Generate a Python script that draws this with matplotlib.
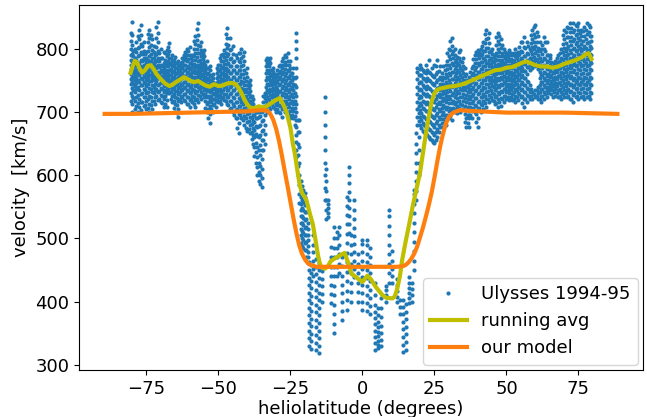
import numpy as np
import matplotlib
matplotlib.use("Agg")
import matplotlib.pyplot as plt

obs_lat = [
    -80.5, -80, -79.5, -79, -78.5, -78, -77.5, -77, -76.5, -76, -75.5, -75, -74.5, -74, -73.5, -73,
    -72.5, -72, -71.5, -71, -70.5, -70, -69.5, -69, -68.5, -68, -67.5, -67, -66.5, -66, -65.5, -65,
    -64.5, -64, -63.5, -63, -62.5, -62, -61.5, -61, -60.5, -60, -59.5, -59, -58.5, -58, -57.5, -57,
    -56.5, -56, -55.5, -55, -54.5, -54, -53.5, -53, -52.5, -52, -51.5, -51, -50.5, -50, -49.5, -49,
    -48.5, -48, -47.5, -47, -46.5, -46, -45.5, -45, -44.5, -44, -43.5, -43, -42.5, -42, -41.5, -41,
    -40.5, -40, -39.5, -39, -38.5, -38, -37.5, -37, -36.5, -36, -35.5, -35, -34.5, -34, -33.5, -33,
    -32.5, -32, -31.5, -31, -30.5, -30, -29.5, -29, -28.5, -28, -27.5, -27, -26.5, -26, -25.5, -25,
    -24.5, -24, -23.5, -23,
    -22.5, -22, -21.5, -21, -20.5, -20, -19.5, -19, -18.5, -18, -17, -16, -15, -14, -13, -12.5, -12,
    -11, -10, -9, -8, -7, -5.5, -4.5, -4, -3, -1.5, -0.3, 1.5, 2.5, 4.5, 5.5, 6.5, 8.3, 9.3, 10.3,
    12, 13, 14, 15, 16.3, 17.3, 18, 18.7,
    19, 19.5, 20, 20.5, 21, 21.5, 22, 22.5, 23, 23.5, 24, 24.5, 25, 25.5, 26, 26.5, 27, 27.5, 28,
    28.5, 29, 29.5, 30, 30.5, 31, 31.5, 32, 32.5, 33, 33.5, 34, 34.5, 35, 35.5, 36, 36.5, 37, 37.5,
    38, 38.5, 39, 39.5, 40, 40.5, 41, 41.5, 42, 42.5, 43, 43.5, 44, 44.5, 45, 45.5, 46, 46.5, 47,
    47.5, 48, 48.5, 49, 49.5, 50, 50.5, 51, 51.5, 52, 52.5, 53, 53.5, 54, 54.5, 55, 55.5, 56, 56.5,
    57, 57.5, 58, 58.5, 59, 59.5, 60, 60.5, 61, 61.5, 62, 62.5, 63, 63.5, 64, 64.5, 65, 65.5, 66,
    66.5, 67, 67.5, 68, 68.5, 69, 69.5, 70, 70.5, 71, 71.5, 72, 72.5, 73, 73.5, 74, 74.5, 75, 75.5,
    76, 76.5, 77, 77.5, 78, 78.5, 79, 79.5,
]

obs_vel = [
    [718, 730, 745, 752, 760, 768, 775, 783, 790, 800, 812, 825],
    [700, 712, 726, 738, 748, 756, 765, 772, 781, 792, 806, 821, 843],
    [722, 735, 744, 753, 762, 770, 779, 788, 797],
    [705, 718, 731, 741, 750, 759, 767, 776, 785, 800],
    [710, 724, 736, 746, 755, 764, 773, 783, 795, 810],
    [700, 714, 727, 739, 751, 761, 770, 778, 788, 801, 820],
    [708, 721, 734, 747, 758, 768, 778, 790, 803, 816, 830],
    [703, 716, 729, 742, 753, 763, 772, 783, 795, 808, 822, 838],
    [716, 730, 742, 752, 762, 771, 781, 792, 804],
    [710, 724, 737, 747, 757, 766, 775, 786, 797, 810],
    [711, 724, 735, 746, 755, 764, 773, 782, 791],
    [705, 718, 730, 741, 750, 759, 768, 777, 786, 795],
    [707, 720, 732, 744, 754, 763, 772, 783, 796, 810, 824],
    [700, 713, 726, 738, 749, 758, 767, 777, 789, 803, 817, 830],
    [711, 724, 737, 749, 759, 769, 780, 792, 806, 822],
    [705, 718, 731, 743, 754, 764, 774, 785, 798, 815],
    [718, 730, 740, 750, 759, 768, 777, 786, 795, 805],
    [712, 724, 735, 745, 754, 763, 772, 781, 790],
    [725, 737, 749, 759, 769, 780, 791, 803, 817, 834],
    [719, 731, 743, 754, 764, 774, 785, 797, 810, 825, 843],
    [721, 733, 744, 753, 762, 771, 781, 793],
    [715, 727, 738, 748, 757, 766, 775, 786, 800],
    [714, 726, 736, 746, 755, 764, 773, 785],
    [708, 720, 731, 741, 750, 759, 768, 778, 795],
    [713, 725, 735, 745, 754, 763, 772, 782, 793],
    [708, 719, 730, 740, 749, 758, 767, 777, 788, 798],
    [735, 745, 754, 763, 772, 781, 792, 803],
    [730, 740, 749, 758, 767, 776, 786, 797, 809],
    [720, 731, 741, 750, 759, 768, 777, 786],
    [715, 726, 736, 745, 754, 763, 772, 781, 790],
    [706, 717, 728, 738, 747, 756, 765, 774, 783],
    [700, 712, 723, 733, 742, 751, 760, 769, 778, 787],
    [698, 711, 722, 733, 743, 752, 761, 769, 777],
    [692, 705, 717, 728, 738, 747, 756, 765, 773, 780],
    [720, 731, 741, 750, 758, 766, 774],
    [715, 726, 736, 745, 754, 762, 770, 777],
    [724, 734, 744, 753, 762, 771, 779, 786],
    [719, 729, 739, 748, 757, 766, 775, 783, 790],
    [717, 728, 738, 748, 757, 766, 775, 785, 795],
    [712, 723, 733, 743, 752, 761, 770, 780, 790, 800],
    [713, 724, 735, 745, 755, 764, 773, 784, 796],
    [708, 719, 730, 740, 750, 759, 768, 778, 790, 803],
    [720, 731, 741, 751, 760, 769, 778, 786],
    [715, 726, 736, 746, 755, 764, 773, 782, 790],
    [713, 724, 735, 746, 756, 766, 776, 788, 800, 813],
    [708, 719, 730, 741, 751, 761, 771, 782, 794, 807, 820],
    [721, 733, 745, 755, 765, 775, 787, 799, 814, 831],
    [715, 727, 739, 750, 760, 770, 781, 793, 806, 822, 841],
    [725, 736, 746, 756, 765, 774, 783, 793, 804],
    [720, 731, 741, 751, 760, 769, 778, 788, 798, 810],
    [729, 739, 748, 757, 766, 775, 784, 793],
    [724, 734, 743, 752, 761, 770, 779, 788, 798],
    [706, 718, 728, 738, 747, 756, 765, 775],
    [700, 712, 723, 733, 742, 751, 760, 770, 780],
    [690, 704, 716, 726, 736, 745, 754, 762, 769],
    [683, 697, 710, 721, 731, 740, 749, 758, 766, 772],
    [705, 716, 726, 735, 743, 751, 757],
    [700, 711, 721, 730, 739, 747, 754, 760],
    [712, 721, 729, 736, 743],
    [708, 717, 725, 732, 739, 746],
    [719, 729, 737, 745, 753, 762, 770],
    [715, 724, 733, 741, 749, 757, 766, 775],
    [717, 727, 737, 746, 756, 765, 775, 785],
    [712, 722, 732, 742, 751, 760, 770, 780, 790],
    [724, 734, 743, 752, 761, 771, 781, 792],
    [719, 729, 739, 748, 757, 766, 776, 787, 798],
    [717, 728, 739, 750, 760, 770, 782, 794, 808, 824],
    [712, 723, 734, 745, 755, 765, 776, 788, 801, 817, 833],
    [711, 723, 735, 746, 756, 767, 778, 791, 806],
    [705, 717, 729, 740, 751, 761, 772, 784, 798, 817],
    [706, 718, 730, 741, 751, 762, 773, 786, 799],
    [700, 712, 724, 735, 746, 756, 767, 779, 792, 805],
    [696, 709, 722, 734, 745, 756, 767, 780],
    [690, 703, 716, 728, 739, 750, 761, 773, 790],
    [675, 690, 704, 716, 728, 739, 750, 761, 773, 786],
    [667, 683, 697, 710, 722, 733, 744, 755, 767, 780, 793],
    [696, 709, 721, 733, 744, 755, 766, 779, 793],
    [690, 703, 715, 727, 738, 749, 760, 772, 786, 800],
    [687, 700, 713, 725, 737, 748, 760, 774, 788],
    [680, 694, 707, 719, 731, 742, 754, 767, 781, 795],
    [675, 690, 703, 715, 726, 737, 749, 762],
    [670, 684, 697, 709, 720, 731, 742, 755, 770],
    [673, 686, 698, 708, 718, 728, 738, 747],
    [667, 680, 692, 703, 713, 723, 733, 742, 751],
    [657, 669, 681, 691, 701, 709, 717, 726],
    [650, 663, 675, 686, 696, 705, 713, 720],
    [630, 645, 660, 672, 684, 695, 703],
    [620, 636, 651, 665, 678, 690, 700, 705],
    [600, 613, 628, 645, 662, 676, 690, 700],
    [590, 605, 620, 640, 660, 678, 692, 700],
    [586, 600, 615, 632, 648, 664, 680, 694],
    [582, 595, 610, 625, 640, 655, 670, 685, 700],
    [640, 656, 672, 688, 703, 716, 726],
    [650, 665, 680, 695, 710, 722, 730],
    [705, 717, 729, 740, 751, 762, 773, 783],
    [700, 712, 723, 734, 745, 756, 767, 778, 785],
    [710, 721, 732, 742, 752, 762, 772, 781],
    [705, 716, 727, 737, 747, 757, 767, 777, 785],
    [713, 723, 733, 742, 751, 760, 767],
    [708, 718, 728, 738, 747, 756, 764, 770],
    [705, 716, 726, 735, 744, 752, 758],
    [700, 711, 721, 731, 740, 749, 755, 760],
    [705, 716, 727, 737, 747, 757, 767],
    [700, 711, 722, 732, 742, 752, 762, 772],
    [698, 710, 722, 733, 744, 755, 765, 775],
    [692, 704, 716, 727, 738, 749, 760, 770, 780],
    [706, 718, 730, 741, 752, 763, 774, 785],
    [700, 712, 724, 735, 746, 757, 768, 779, 790],
    [706, 718, 729, 740, 751, 762, 774, 787],
    [700, 712, 723, 734, 745, 756, 767, 780, 793],
    [696, 708, 720, 732, 743, 754, 765, 775],
    [690, 702, 714, 726, 737, 748, 759, 770, 780],
    [695, 706, 717, 728, 739, 750, 762],
    [690, 701, 712, 723, 734, 745, 756, 770],
    [680, 694, 706, 718, 730, 742, 754],
    [629, 640, 652, 664, 676, 688, 700, 712, 725, 740, 755, 770, 785, 800, 812, 825],
    [600, 615, 632, 650, 668, 688],
    [556, 570, 585, 600, 620, 645, 668, 688],
    [493, 505, 515, 525, 535, 545, 555, 565, 577, 590],
    [488, 500, 512, 524, 536, 548, 560, 572, 583],
    [485, 497, 509, 521, 533, 545, 557, 569, 577],
    [482, 493, 505, 517, 529, 541, 553, 565, 572],
    [470, 482, 494, 506, 518, 530, 542, 555],
    [461, 470, 479, 488, 497, 506, 515, 525],
    [330, 342, 354, 366, 378, 390, 402, 414, 426, 438, 450, 462],
    [325, 337, 349, 361, 373, 385, 397, 409, 421, 433, 445, 458],
    [440, 452, 465, 478, 490, 505],
    [323, 335, 347, 359, 371, 383, 395, 407, 419, 431, 443, 455, 467],
    [318, 330, 342, 354, 366, 378, 390, 402, 414, 426, 438, 450, 461],
    [400, 412, 424, 436, 448],
    [560, 580, 600, 620, 640, 660, 680, 700, 724],
    [530, 545, 560, 575, 590, 610],
    [534, 540, 548, 555, 561],
    [398, 412, 426, 440, 455, 470, 487],
    [350, 365, 380, 395, 410, 425, 440, 455, 470, 485, 500, 518],
    [440, 455, 470, 485, 500, 510],
    [446, 460, 475, 490, 505, 518],
    [371, 385, 399, 413, 427, 441, 456, 471],
    [387, 402, 417, 432, 447, 462, 477, 492, 507, 522, 537, 552, 566],
    [509, 522, 535, 548, 561, 574, 587, 600, 613],
    [400, 415, 430, 445, 460, 475, 490, 505],
    [439, 452, 465, 478, 491, 504, 517, 530, 545, 561],
    [400, 415, 430, 445, 460, 475],
    [387, 400, 413, 426, 439, 452, 465, 478, 491, 498],
    [385, 398, 411, 424, 437, 450, 463, 476, 489, 498],
    [380, 393, 406, 419, 432, 445, 458, 471, 484],
    [324, 334, 344, 354, 364, 374, 384, 394, 410, 430],
    [326, 332, 338, 345, 352, 360, 368, 378, 390],
    [330, 340, 350, 362, 375, 390, 405],
    [400, 410, 418, 425],
    [430, 445, 460, 475, 490, 505, 520, 535, 545],
    [430, 440, 452, 465, 480],
    [400, 408, 417, 426, 435],
    [380, 392, 403],
    [320, 332, 344, 356, 368, 380, 392, 403],
    [324, 336, 348, 360, 372, 384, 396],
    [398, 406, 414, 422, 430, 439],
    [400, 410, 420, 430],
    [450, 465, 480, 495, 510, 525, 540, 555, 570, 577],
    [561, 575, 590, 605, 620, 635, 650, 667],
    [680, 692, 704, 716, 728, 740, 752, 764, 770],
    [600, 620, 640, 660, 686, 698, 710, 722, 734, 746, 758],
    [680, 692, 703, 714, 725, 736, 747, 758, 768, 775],
    [675, 687, 699, 711, 723, 735, 747, 759, 770],
    [670, 682, 694, 706, 718, 730, 742, 754, 766],
    [668, 680, 692, 704, 716, 728, 740, 752, 764],
    [665, 677, 689, 701, 713, 725, 737, 749, 761, 775],
    [663, 676, 689, 702, 715, 728, 741, 754, 767],
    [660, 673, 686, 699, 712, 725, 738, 751, 764, 782],
    [658, 671, 684, 697, 710, 723, 736, 749, 762],
    [655, 668, 681, 694, 707, 720, 733, 746, 758, 770],
    [653, 666, 679, 692, 705, 718, 731, 744, 757],
    [651, 664, 677, 690, 703, 716, 729, 742, 755, 775],
    [656, 669, 682, 695, 708, 721, 734, 747, 760, 772],
    [660, 673, 686, 699, 712, 725, 738, 751, 764, 782],
    [668, 680, 692, 704, 716, 728, 740, 752, 765],
    [677, 689, 701, 712, 723, 734, 745, 756, 772],
    [683, 695, 706, 717, 728, 739, 750, 762],
    [677, 689, 700, 711, 722, 733, 744, 756, 772],
    [684, 696, 708, 719, 730, 741, 753, 766],
    [680, 692, 704, 715, 726, 737, 748, 760, 775],
    [696, 708, 720, 732, 744, 756, 768, 781, 794],
    [690, 702, 714, 726, 738, 750, 762, 775, 788, 800],
    [694, 707, 720, 733, 746, 758, 770, 784, 798, 812],
    [688, 701, 714, 727, 740, 752, 764, 777, 791, 805, 817],
    [706, 718, 730, 741, 752, 763, 774, 785, 796],
    [700, 712, 724, 735, 746, 757, 768, 779, 790, 800],
    [704, 716, 728, 739, 750, 761, 772, 782],
    [698, 710, 722, 733, 744, 755, 766, 777, 787],
    [706, 718, 730, 741, 752, 763, 774, 786, 795],
    [700, 712, 724, 736, 747, 758, 769, 780, 798],
    [711, 723, 734, 745, 756, 767, 779],
    [705, 717, 728, 739, 750, 761, 772, 785],
    [684, 697, 710, 722, 734, 746, 757, 770],
    [677, 690, 703, 715, 727, 739, 750, 760],
    [683, 696, 708, 720, 731, 741, 751],
    [677, 690, 702, 714, 725, 736, 746, 756],
    [696, 708, 720, 731, 742, 752, 763],
    [690, 702, 714, 725, 736, 747, 758, 770],
    [706, 717, 728, 739, 750, 761, 772, 784],
    [700, 711, 722, 733, 744, 755, 766, 778, 790],
    [684, 697, 710, 722, 734, 746, 758, 771, 784, 795],
    [677, 691, 704, 716, 728, 740, 752, 764, 777, 790, 798],
    [706, 718, 730, 741, 752, 763, 774, 785, 795],
    [700, 712, 724, 735, 746, 757, 768, 779, 790, 800],
    [711, 723, 735, 746, 757, 768, 779, 791, 804],
    [705, 717, 729, 740, 751, 762, 773, 785, 797, 810],
    [714, 726, 738, 750, 761, 772, 783, 796, 809, 823],
    [708, 720, 732, 744, 755, 766, 777, 789, 802, 816, 830],
    [721, 733, 745, 756, 767, 778, 789, 802, 817],
    [715, 727, 739, 750, 761, 772, 783, 795, 809, 825],
    [724, 735, 746, 756, 766, 776, 786, 796],
    [719, 730, 741, 751, 761, 771, 781, 791, 800],
    [717, 728, 739, 749, 759, 769, 779, 787],
    [712, 723, 734, 744, 754, 764, 774, 784, 790],
    [714, 726, 738, 749, 760, 771, 782, 794, 806, 819],
    [708, 720, 732, 743, 754, 765, 776, 788, 800, 812, 825],
    [716, 728, 739, 750, 761, 772, 783, 795, 808, 820],
    [710, 722, 733, 744, 755, 766, 777, 789, 802, 815],
    [720, 731, 742, 752, 762, 772, 783, 794, 806],
    [715, 726, 737, 747, 757, 767, 777, 788, 800],
    [725, 736, 746, 756, 766, 776, 786, 795],
    [720, 731, 741, 751, 761, 771, 781, 790],
    [724, 735, 745, 755, 765, 775, 785, 794],
    [719, 730, 740, 750, 760, 770, 780, 790, 798],
    [724, 734, 744, 754, 764, 774, 784, 794],
    [719, 729, 739, 749, 759, 769, 779, 790],
    [720, 731, 742, 752, 762, 772, 782, 794],
    [715, 726, 737, 747, 757, 767, 777, 788, 800],
    [724, 735, 745, 755, 765, 775, 785, 793],
    [719, 730, 740, 750, 760, 770, 780, 790, 795],
    [729, 740, 750, 760, 770, 780, 791, 803],
    [724, 735, 745, 755, 765, 775, 785, 797, 810],
    [714, 726, 737, 748, 759, 770, 782, 795, 810],
    [708, 720, 732, 743, 754, 765, 776, 788, 803, 819],
    [721, 732, 743, 754, 765, 776, 788, 802],
    [715, 727, 738, 749, 760, 771, 782, 794, 810],
    [725, 736, 747, 771, 781, 792, 805],
    [720, 731, 742, 766, 776, 786, 800],
    [725, 736, 775, 785, 797, 809, 822],
    [720, 731, 770, 780, 791, 803, 816, 830],
    [729, 777, 787, 799, 811, 824, 834],
    [724, 734, 772, 782, 793, 805, 818, 838],
    [725, 735, 774, 784, 796, 810, 826],
    [720, 730, 740, 768, 779, 790, 802, 820],
    [720, 731, 742, 753, 764, 775, 786, 796, 810],
    [715, 726, 737, 748, 759, 770, 781, 800],
    [725, 736, 747, 758, 769, 780, 792, 806],
    [720, 731, 742, 753, 764, 775, 786, 800, 819],
    [729, 740, 751, 762, 773, 784, 796, 810],
    [724, 735, 746, 757, 768, 779, 790, 810],
    [730, 740, 750, 760, 770, 780, 790],
    [735, 745, 755, 765, 775, 785, 790],
    [729, 739, 749, 759, 769, 779],
    [724, 734, 744, 754, 764, 772],
    [731, 741, 751, 761, 771, 778],
    [726, 736, 746, 756, 766, 776, 780],
    [730, 741, 752, 763, 774, 785],
    [724, 735, 746, 757, 768, 779, 790],
    [726, 737, 748, 759, 770, 781, 794],
    [720, 731, 742, 753, 764, 775, 786, 800],
    [729, 740, 751, 762, 773, 784, 795, 808, 822],
    [724, 735, 746, 757, 768, 779, 790, 801, 815, 830],
    [730, 741, 752, 763, 774, 785, 796, 809, 826],
    [724, 735, 746, 757, 768, 779, 790, 802, 818, 835],
    [726, 737, 748, 759, 770, 781, 792, 805, 819, 833],
    [720, 731, 742, 753, 764, 775, 786, 798, 812, 826, 841],
    [721, 733, 745, 757, 769, 781, 793, 806, 819, 833],
    [715, 727, 739, 751, 763, 775, 787, 799, 812, 826, 841],
    [730, 742, 754, 766, 778, 790, 802, 815, 830],
    [724, 736, 748, 760, 772, 784, 796, 808, 822, 838],
    [726, 738, 750, 762, 774, 786, 798, 811, 824, 836],
    [720, 732, 744, 756, 768, 780, 792, 804, 817, 830, 841],
    [730, 742, 754, 766, 778, 790, 802, 814, 825],
    [724, 736, 748, 760, 772, 784, 796, 808, 820, 830],
    [726, 738, 750, 762, 774, 786, 799, 813, 828],
    [720, 732, 744, 756, 768, 780, 792, 805, 820, 835],
    [730, 742, 754, 766, 778, 790, 802, 816, 830],
    [724, 736, 748, 760, 772, 784, 796, 809, 824, 840],
    [726, 738, 750, 762, 774, 786, 798, 811, 826, 838],
    [720, 732, 744, 756, 768, 780, 792, 805, 820, 835],
    [730, 742, 754, 766, 778, 790, 802, 812, 820],
]

# ---- running average ----
avg_lat = [-80.5, -79.8, -79, -78.2, -77.5, -76.5, -75.5, -74.5, -73.5, -72.5, -71.5, -70, -68.5,
           -67, -66, -64.5, -63, -62, -61, -60, -58.5, -57, -56, -54.5, -53, -51.5, -50, -48.5,
           -47, -45.5, -44, -43, -42, -41, -40, -39, -38, -37, -36, -35, -34, -33, -32, -31, -30,
           -28.7, -27.5, -26.3, -25, -24.2, -23.5, -22.5, -21.8, -21, -20, -19.4, -18.3, -17.2,
           -16.2, -15.5, -14.9, -14.2, -13, -12, -11, -10, -8.6, -7, -6.2, -5, -3.8, -2, 0, 1.7,
           3, 4.5, 5.9, 7, 8.3, 10.4, 11.2, 12, 13, 13.8, 15, 16.3, 17.5, 18.7, 20, 21, 22, 23,
           24, 25, 26, 27, 28, 30, 32, 34, 36, 38, 40, 42, 44, 46, 48, 50, 52, 54, 55.5, 57, 58.5,
           60, 62, 64, 66, 68, 70, 72, 74, 76, 77.5, 78.5, 79.5]
avg_vel = [762, 772, 781, 778, 770, 762, 766, 773, 774, 768, 760, 752, 745,
           741, 743, 748, 752, 755, 753, 750, 747, 749, 746, 742, 740, 744, 741, 742,
           745, 746, 744, 738, 730, 720, 712, 707, 706, 707, 709, 708, 707, 710, 713, 716, 719,
           722, 712, 699, 675, 651, 635, 605, 585, 572, 565, 560, 540, 522,
           495, 475, 462, 454, 452, 456, 464, 467, 471, 475, 477, 462, 444, 438, 431, 441,
           435, 424, 416, 410, 406, 405, 408, 419, 440, 466, 495, 524, 552, 577, 604, 635, 665, 692,
           716, 730, 735, 737, 738, 740, 741, 743, 746, 750, 754, 758, 762, 766, 767, 770, 771, 775, 778, 780, 777,
           774, 772, 772, 770, 772, 776, 779, 782, 786, 791, 793, 784]

# ---- our model ----
model_lat = [-89.5, -80, -70, -60, -50, -40, -35, -33, -32, -31, -30, -29, -28, -27, -26, -25, -24,
             -23, -22, -21, -20, -19, -18, -16, 0, 12, 14, 15, 16, 17, 18, 19, 20, 21, 22, 23, 24,
             25, 26, 27, 28, 29, 30, 31, 32, 34, 36, 50, 70, 88.5]
model_vel = [697, 697, 698, 699, 700, 701, 703, 702, 697, 688, 674, 655, 632, 607, 583, 558, 533,
             510, 490, 476, 467, 461, 458, 455, 455, 455, 456, 458, 462, 468, 476, 487, 502, 517,
             534, 552, 572, 596, 622, 646, 666, 682, 692, 697, 700, 703, 702, 699, 699, 697]

fs = 13
fig = plt.figure(figsize=(6.47, 4.17), dpi=100)
ax = fig.add_axes([79 / 647, (417 - 370) / 417, (643 - 79) / 647, (370 - 5) / 417])

xs = np.concatenate([np.full(len(v), la) for la, v in zip(obs_lat, obs_vel)])
ys = np.concatenate([np.asarray(v, dtype=float) for v in obs_vel])

ax.plot(xs, ys, '.', color='#1f77b4', ms=6, mew=0, label='Ulysses 1994-95')
ax.plot(avg_lat, avg_vel, '-', color='#bfbf00', lw=3, label='running avg')
ax.plot(model_lat, model_vel, '-', color='#ff7f0e', lw=3, label='our model')

ax.set_xlabel('heliolatitude (degrees)', fontsize=fs, labelpad=2)
ax.set_ylabel('velocity  [km/s]', fontsize=fs)
ax.tick_params(labelsize=fs)
ax.legend(loc='lower right', fontsize=fs, borderaxespad=0.3)

fig.savefig('out.png', dpi=100)
